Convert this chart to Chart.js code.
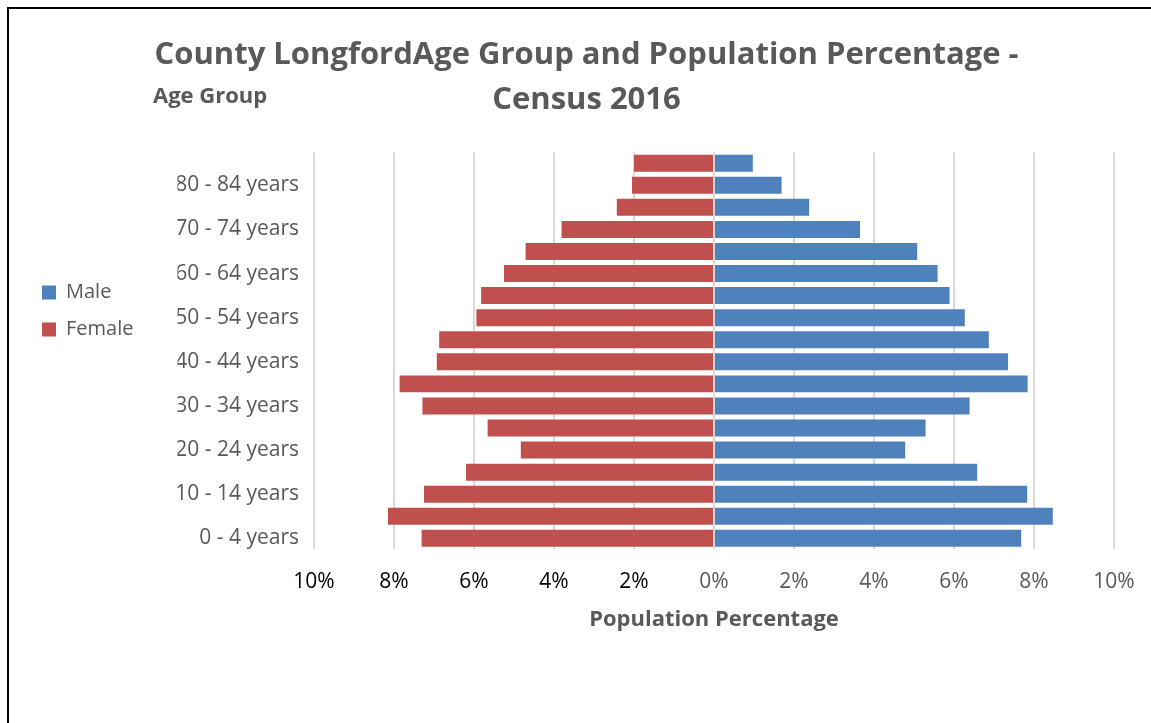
<!DOCTYPE html>
<html lang="en">
<head>
<meta charset="UTF-8">
<title>County Longford Age Group and Population Percentage - Census 2016</title>
<script src="https://cdn.jsdelivr.net/npm/chart.js@4.4.0/dist/chart.umd.min.js"></script>
<style>
    html, body {
        margin: 0;
        padding: 0;
        background: #fff;
        overflow: hidden;
    }
    .frame {
        position: absolute;
        left: 7px;
        top: 7px;
        right: 0;
        bottom: 0;
        border-top: 2px solid #000;
        border-left: 2px solid #000;
    }
    #pyramid {
        display: block;
    }
</style>
</head>
<body>
<div class="frame">
    <canvas id="pyramid" width="1142" height="714"></canvas>
</div>

<script>
// age bands, youngest first (drawn bottom to top)
const ageGroups = [
    '0 - 4 years', '5 - 9 years', '10 - 14 years', '15 - 19 years',
    '20 - 24 years', '25 - 29 years', '30 - 34 years', '35 - 39 years',
    '40 - 44 years', '45 - 49 years', '50 - 54 years', '55 - 59 years',
    '60 - 64 years', '65 - 69 years', '70 - 74 years', '75 - 79 years',
    '80 - 84 years', '85 years and over'
];

// % of population
const malePct = [7.68, 8.47, 7.83, 6.58, 4.78, 5.29, 6.39, 7.84, 7.35,
                 6.87, 6.27, 5.89, 5.59, 5.08, 3.65, 2.38, 1.69, 0.97];
const femalePct = [7.31, 8.15, 7.25, 6.20, 4.83, 5.66, 7.29, 7.86, 6.93,
                   6.87, 5.94, 5.82, 5.25, 4.71, 3.81, 2.43, 2.05, 2.00];

const titleLines = ['County LongfordAge Group and Population Percentage -', 'Census 2016'];

const FONT = "'Open Sans', sans-serif";
const GREY = '#595959';
const PAD_LEFT = 50;
const PLOT_LEFT = 305; // where the 10% gridline on the left should land

Chart.defaults.font.family = FONT;

// Excel puts the legend higher up and further left than chart.js would
const legendPlace = {
    id: 'legendPlace',
    afterLayout(chart) {
        const lg = chart.legend;
        const w = lg.right - lg.left;
        const h = lg.bottom - lg.top;
        lg.left = 16;
        lg.right = 16 + w;
        lg.top = 302 - h / 2;
        lg.bottom = 302 + h / 2;
    }
};

// the "Age Group" axis caption sits above the labels, not rotated
const axisCaption = {
    id: 'axisCaption',
    afterDraw(chart) {
        const ctx = chart.ctx;
        ctx.save();
        ctx.font = "bold 22px " + FONT;
        ctx.fillStyle = GREY;
        ctx.textAlign = 'left';
        ctx.textBaseline = 'middle';
        ctx.fillText('Age Group', 144, 88);
        ctx.restore();
    }
};

new Chart(document.getElementById('pyramid'), {
    type: 'bar',
    data: {
        labels: ageGroups,
        datasets: [
            {
                label: 'Male',
                data: malePct,
                backgroundColor: '#4F81BD'
            },
            {
                label: 'Female',
                data: femalePct.map(v => -v),
                backgroundColor: '#C0504D'
            }
        ]
    },
    plugins: [legendPlace, axisCaption],
    options: {
        indexAxis: 'y',
        responsive: false,
        animation: false,
        barPercentage: 0.77,
        categoryPercentage: 1,
        layout: {
            padding: { left: PAD_LEFT, right: 37, top: 0, bottom: 90 }
        },
        scales: {
            x: {
                stacked: true,
                min: -10,
                max: 10,
                ticks: {
                    stepSize: 2,
                    padding: 12,
                    font: { size: 21 },
                    color: ctx => ctx.tick && ctx.tick.value < 0 ? '#000' : GREY,
                    callback: v => Math.abs(v) + '%'
                },
                grid: {
                    color: '#d9d9d9',
                    lineWidth: 2,
                    tickLength: 8,
                    tickColor: 'rgba(0,0,0,0)'
                },
                border: { display: false },
                title: {
                    display: true,
                    text: 'Population Percentage',
                    color: GREY,
                    font: { size: 22, weight: 'bold' },
                    padding: { top: 0, bottom: 0 }
                }
            },
            y: {
                stacked: true,
                reverse: true,
                grid: { display: false, drawTicks: false },
                border: { display: false },
                ticks: {
                    autoSkip: false,
                    padding: 15,
                    color: GREY,
                    font: { size: 21 },
                    callback: (v, i) => i % 2 === 0 ? ageGroups[i] : ''
                },
                afterFit: scale => {
                    const lg = scale.chart.legend;
                    scale.width = PLOT_LEFT - PAD_LEFT - (lg ? lg.width : 0);
                }
            }
        },
        plugins: {
            title: {
                display: true,
                text: titleLines,
                color: GREY,
                font: { size: 31, weight: 'bold', lineHeight: 1.47 },
                padding: { top: 23, bottom: 29 }
            },
            legend: {
                position: 'left',
                fullSize: false,
                labels: {
                    boxWidth: 14,
                    boxHeight: 14,
                    padding: 17,
                    color: GREY,
                    font: { size: 20 }
                }
            },
            tooltip: { enabled: false }
        }
    }
});
</script>
</body>
</html>
